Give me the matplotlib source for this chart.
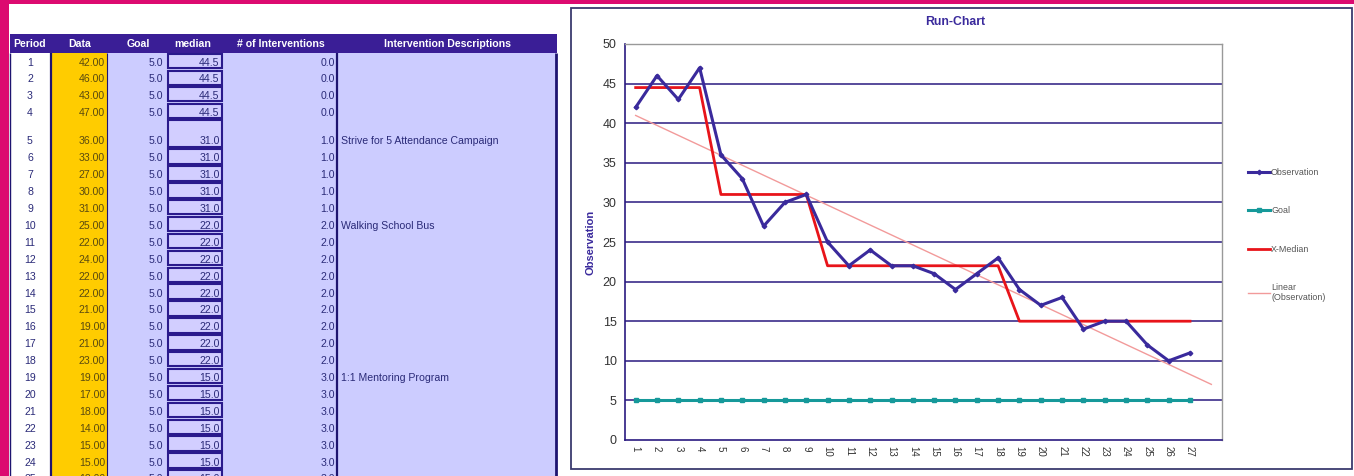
import numpy as np
import matplotlib
matplotlib.use("Agg")
import matplotlib.pyplot as plt
from matplotlib.patches import Rectangle

plt.rcParams['font.family'] = ['Liberation Sans', 'DejaVu Sans']

# ---------------- data ----------------
periods = list(range(1, 28))
observations = [42, 46, 43, 47, 36, 33, 27, 30, 31, 25, 22, 24, 22, 22, 21, 19, 21,
                23, 19, 17, 18, 14, 15, 15, 12, 10, 11]
goal = [5.0] * 27
median = [44.5] * 4 + [31.0] * 5 + [22.0] * 9 + [15.0] * 9
interventions = [0.0] * 4 + [1.0] * 5 + [2.0] * 9 + [3.0] * 9
descriptions = {5: "Strive for 5 Attendance Campaign", 10: "Walking School Bus",
                19: "1:1 Mentoring Program"}
headers = ["Period", "Data", "Goal", "median", "# of Interventions", "Intervention Descriptions"]
y_ticks = [0, 5, 10, 15, 20, 25, 30, 35, 40, 45, 50]
n_table_rows = 25

# ---------------- figure ----------------
W, H = 1354, 476
fig = plt.figure(figsize=(W / 100, H / 100), dpi=100)
fig.patch.set_facecolor('white')

bg = fig.add_axes([0, 0, 1, 1])
bg.set_xlim(0, W)
bg.set_ylim(H, 0)
bg.axis('off')

PINK = '#DC0A70'
NAVY = '#3A1E96'
TXT = '#2A2A78'
YEL = '#FFCC00'
LAV = '#CCCCFF'

bg.add_patch(Rectangle((0, 0), W, 4, color=PINK, lw=0))
bg.add_patch(Rectangle((0, 0), 8.5, H, color=PINK, lw=0))

cols = [10, 51, 107, 166, 223, 337, 556]
header_top, header_bot = 34, 53
heights = [16.5] * 4 + [29] + [16.9] * (n_table_rows - 5)
tops = [header_bot]
for h in heights:
    tops.append(tops[-1] + h)

bg.add_patch(Rectangle((cols[0], header_top), cols[-1] - cols[0] + 1, header_bot - header_top,
                       color=NAVY, lw=0))
hdr_x = [30, 80, 138, 193, 281, 447]
for x, t in zip(hdr_x, headers):
    bg.text(x, (header_top + header_bot) / 2 + 0.5, t, color='white', fontsize=7.6,
            fontweight='bold', ha='center', va='center')

body_top, body_bot = header_bot, H + 5
fills = ['white', YEL, LAV, LAV, LAV, LAV]
for i in range(6):
    bg.add_patch(Rectangle((cols[i], body_top), cols[i + 1] - cols[i], body_bot - body_top,
                           color=fills[i], lw=0))

for x, lw in [(10, 1.0), (51, 1.6), (107, 0.8), (337, 1.6), (556, 2.0)]:
    bg.plot([x, x], [header_bot, H + 5], color='#1E1470', lw=lw, solid_capstyle='butt')

for r in range(n_table_rows):
    top, bot = tops[r], tops[r + 1]
    base = bot - 3.5
    p = periods[r]
    bg.add_patch(Rectangle((167.5, top + 1.2), 54, bot - top - 2.4, facecolor='#D2CEFF',
                           edgecolor='#2A1A8C', lw=1.5))
    bg.text(30, base, f"{p}", color=TXT, fontsize=7.6, ha='center', va='baseline')
    bg.text(105, base, f"{observations[r]:.2f}", color='#5A4A10', fontsize=7.6, ha='right',
            va='baseline')
    bg.text(163, base, f"{goal[r]:.1f}", color=TXT, fontsize=7.6, ha='right', va='baseline')
    bg.text(219.5, base, f"{median[r]:.1f}", color=TXT, fontsize=7.6, ha='right', va='baseline')
    bg.text(335, base, f"{interventions[r]:.1f}", color=TXT, fontsize=7.6, ha='right',
            va='baseline')
    if p in descriptions:
        bg.text(341, base, descriptions[p], color=TXT, fontsize=7.6, ha='left', va='baseline')

bg.add_patch(Rectangle((571, 8), 1352 - 571, 469 - 8, facecolor='white',
                       edgecolor='#3A3A6E', lw=1.3))

# ---------------- chart ----------------
L, R, T, B = 625, 1222, 44, 440
ax = fig.add_axes([L / W, 1 - B / H, (R - L) / W, (B - T) / H])
ax.set_facecolor('white')

ax.set_ylim(0, 50)
ax.set_xlim(0.5, 28.5)
ax.set_yticks(y_ticks)
for yv in y_ticks[1:]:
    ax.axhline(yv, color='#2A1A80', lw=1.1, zorder=1)

slope, intercept = np.polyfit(periods, observations, 1)
trend_x = np.array([1, 28])
ax.plot(trend_x, slope * trend_x + intercept, color='#F29A9A', lw=1.0, zorder=2,
        label='Linear\n(Observation)')
ax.plot(periods, goal, color='#16999A', lw=2.2, marker='s', ms=2.2, zorder=3, label='Goal')
ax.plot(periods, median, color='#E8141A', lw=2.0, zorder=4, label='X-Median')
ax.plot(periods, observations, color='#3A2A9C', lw=2.2, marker='D', ms=2.3, zorder=5,
        label='Observation')

ax.set_xticks(periods)
ax.set_xticklabels([str(p) for p in periods], rotation=-90, fontsize=7, color='#333333')
ax.tick_params(axis='x', length=0, pad=4)
ax.tick_params(axis='y', length=0, pad=6, labelsize=9, labelcolor='#333333')

for s in ['left', 'bottom']:
    ax.spines[s].set_color('#2A1A80')
    ax.spines[s].set_linewidth(1.2)
for s in ['right', 'top']:
    ax.spines[s].set_color('#999999')
    ax.spines[s].set_linewidth(1.0)

fig.text(955 / W, 1 - 22 / H, 'Run-Chart', fontsize=8.8, fontweight='bold', color='#3A2A9C',
         ha='center', va='center')
fig.text(591 / W, 1 - 242 / H, 'Observation', fontsize=8, fontweight='bold', color='#3A2A9C',
         ha='center', va='center', rotation=90)

handles, labels = ax.get_legend_handles_labels()
order = [3, 1, 2, 0]
fig.legend([handles[i] for i in order], [labels[i] for i in order],
           loc='upper left', bbox_to_anchor=(1240 / W, 1 - 160 / H), frameon=False,
           fontsize=6.4, labelspacing=3.3, handlelength=2.5, handletextpad=0.1,
           labelcolor='#555555')

fig.savefig('out.png', dpi=100, facecolor='white')
